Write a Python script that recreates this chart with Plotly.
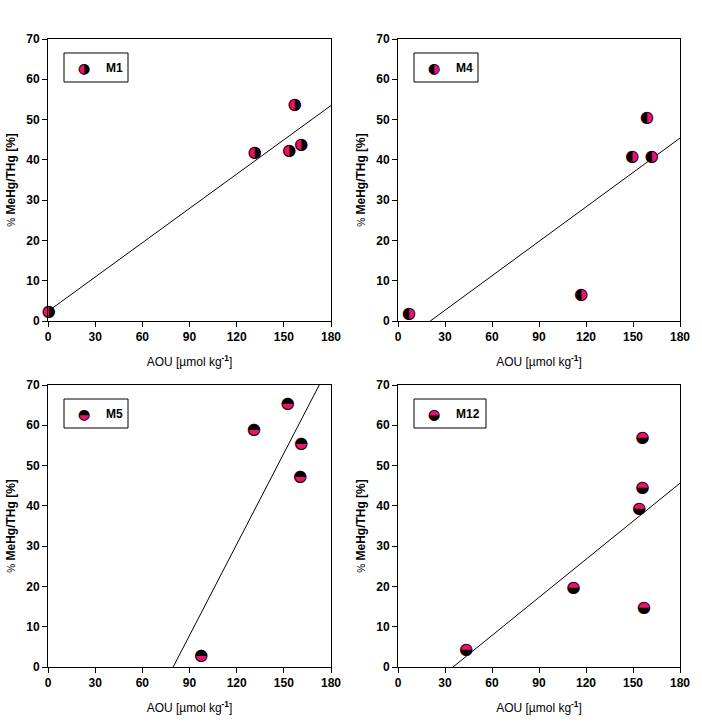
import numpy as np
import plotly.graph_objects as go

# ---- data ----
panels = ["M1", "M4", "M5", "M12"]
aou_m1 = [0.5, 131.5, 153.5, 157, 161]
pct_m1 = [2.2, 41.6, 42.3, 53.6, 43.6]
aou_m4 = [7, 117, 149.5, 159, 162]
pct_m4 = [1.7, 6.4, 40.8, 50.3, 40.8]
aou_m5 = [97.5, 131, 152.5, 161, 160.5]
pct_m5 = [2.7, 58.8, 65.4, 55.4, 47.1]
aou_m12 = [43.5, 112, 154, 156, 156, 157]
pct_m12 = [4.2, 19.6, 39.1, 44.4, 56.8, 14.7]
# black-half glyph per panel (half that is black)
half_glyph = {"M1": "\u25D1", "M4": "\u25D0", "M5": "\u25D3", "M12": "\u25D2"}
x_ticks = [0, 30, 60, 90, 120, 150, 180]
y_ticks = [0, 10, 20, 30, 40, 50, 60, 70]

PINK = "#e8146c"
W, H = 702, 723

data = {"M1": (aou_m1, pct_m1), "M4": (aou_m4, pct_m4),
        "M5": (aou_m5, pct_m5), "M12": (aou_m12, pct_m12)}

# pixel boxes of plot areas (left, top, right, bottom)
boxes = {"M1": (48, 39, 331, 321), "M4": (398, 39, 680, 321),
         "M5": (48, 385, 331, 667), "M12": (398, 385, 680, 667)}

fig = go.Figure()
GS = 16  # glyph font size

for i, name in enumerate(panels):
    ax = "" if i == 0 else str(i + 1)
    xa, ya = "x" + ax, "y" + ax
    xs, ys = data[name]
    slope, icpt = np.polyfit(xs, ys, 1)
    lx = np.array([x_ticks[0], x_ticks[-1]], dtype=float)
    fig.add_trace(go.Scatter(x=lx, y=slope * lx + icpt, mode="lines",
                             line=dict(color="black", width=1),
                             xaxis=xa, yaxis=ya, showlegend=False, hoverinfo="skip"))
    fig.add_trace(go.Scatter(x=xs, y=ys, mode="text", text=["\u25CF"] * len(xs),
                             textposition="middle center",
                             textfont=dict(family="DejaVu Sans", size=GS, color=PINK),
                             xaxis=xa, yaxis=ya, showlegend=False, cliponaxis=False))
    fig.add_trace(go.Scatter(x=xs, y=ys, mode="text", text=[half_glyph[name]] * len(xs),
                             textposition="middle center",
                             textfont=dict(family="DejaVu Sans", size=GS, color="black"),
                             xaxis=xa, yaxis=ya, showlegend=False, cliponaxis=False))

    l, t, r, b = boxes[name]
    dom_x = [l / W, r / W]
    dom_y = [1 - b / H, 1 - t / H]
    axis_common = dict(showline=True, linecolor="black", linewidth=1, mirror=True,
                       ticks="outside", ticklen=5, tickcolor="black", tickwidth=1,
                       showgrid=False, zeroline=False, automargin=False,
                       tickfont=dict(family="Liberation Sans", size=12, color="black", weight="bold"))
    fig.layout["xaxis" + ax] = dict(domain=dom_x, range=[x_ticks[0], x_ticks[-1]],
                                    tickvals=x_ticks, anchor=ya,
                                    title=dict(text="AOU [\u00b5mol kg<sup><b>-1</b></sup>]",
                                               font=dict(family="Liberation Sans", size=12, color="black"),
                                               standoff=14),
                                    **axis_common)
    fig.layout["yaxis" + ax] = dict(domain=dom_y, range=[y_ticks[0], y_ticks[-1]],
                                    tickvals=y_ticks, anchor=xa,
                                    title=dict(text="<span style='font-size:10px'>%</span> <b>MeHg/THg [%]</b>",
                                               font=dict(family="Liberation Sans", size=12, color="black"),
                                               standoff=8),
                                    **axis_common)

    # legend box
    bw = 64 if name != "M12" else 72
    bx0 = (64 - 48) / (r - l)
    bx1 = (64 - 48 + bw) / (r - l)
    by1 = 1 - (53 - 39) / (b - t)
    by0 = 1 - (82 - 39) / (b - t)
    fig.add_shape(type="rect", xref=xa + " domain", yref=ya + " domain",
                  x0=bx0, x1=bx1, y0=by0, y1=by1, line=dict(color="black", width=1))
    mx = (84 - 48) / (r - l)
    my = (by0 + by1) / 2
    for g, c in (("\u25CF", PINK), (half_glyph[name], "black")):
        fig.add_annotation(xref=xa + " domain", yref=ya + " domain", x=mx, y=my,
                           text=g, showarrow=False, xanchor="center", yanchor="middle",
                           font=dict(family="DejaVu Sans", size=GS - 2, color=c))
    fig.add_annotation(xref=xa + " domain", yref=ya + " domain", x=(104 - 48) / (r - l), y=my,
                       text="<b>" + name + "</b>", showarrow=False, xanchor="left", yanchor="middle",
                       font=dict(family="Liberation Sans", size=12, color="black"))

fig.update_layout(width=W, height=H, margin=dict(l=0, r=0, t=0, b=0),
                  paper_bgcolor="white", plot_bgcolor="white", showlegend=False)
fig.write_html("out.html")
